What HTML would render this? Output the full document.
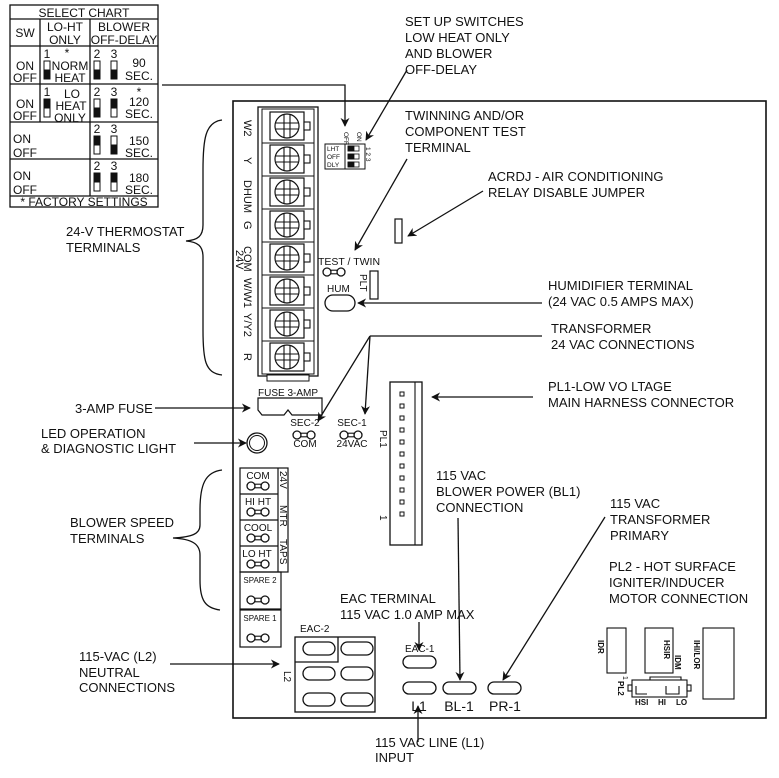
<!DOCTYPE html>
<html><head><meta charset="utf-8"><style>
html,body{margin:0;padding:0;background:#fff}
svg{display:block}
text{font-family:"Liberation Sans",Arial,sans-serif;fill:#111}
</style></head><body>
<svg width="779" height="778" viewBox="0 0 779 778" xmlns="http://www.w3.org/2000/svg">
<defs>
<marker id="a" viewBox="0 0 10 10" refX="9" refY="5" markerWidth="9" markerHeight="9" orient="auto" markerUnits="userSpaceOnUse"><path d="M0,0 L10,5 L0,10 L3,5 Z" fill="#111"/></marker>
<g id="jp"><circle cx="-7" cy="0" r="4" fill="#fff" stroke="#111" stroke-width="1.3"/><circle cx="7" cy="0" r="4" fill="#fff" stroke="#111" stroke-width="1.3"/><rect x="-3" y="-1.8" width="6" height="3.6" fill="#fff" stroke="#111" stroke-width="1.1"/></g>
<g id="scr"><rect x="0" y="0" width="34" height="28" fill="#fff" stroke="#111" stroke-width="1.2"/><circle cx="17" cy="14" r="12" fill="#fff" stroke="#111" stroke-width="1.2"/><path d="M14,3 V25 M20,3 V25 M6,11 H28 M6,17 H28" stroke="#111" stroke-width="1.1" fill="none"/><rect x="34" y="10" width="6" height="8" fill="#fff" stroke="#111" stroke-width="1.1"/></g>
</defs>
<g fill="none" stroke="#111" stroke-width="1.3">
<!-- select chart -->
<rect x="10" y="5" width="148" height="202"/>
<line x1="10" y1="19" x2="158" y2="19"/>
<line x1="10" y1="46" x2="158" y2="46"/>
<line x1="10" y1="84" x2="158" y2="84"/>
<line x1="10" y1="122" x2="158" y2="122"/>
<line x1="10" y1="159" x2="158" y2="159"/>
<line x1="10" y1="196" x2="158" y2="196"/>
<line x1="40" y1="19" x2="40" y2="122"/>
<line x1="90" y1="19" x2="90" y2="196"/>
</g>
<g fill="#111" stroke="#111" stroke-width="1">
<rect x="44" y="61" width="6" height="9" fill="#fff"/><rect x="44" y="70" width="6" height="9"/>
<rect x="94" y="61" width="6" height="9" fill="#fff"/><rect x="94" y="70" width="6" height="9"/>
<rect x="111" y="61" width="6" height="9" fill="#fff"/><rect x="111" y="70" width="6" height="9"/>
<rect x="44" y="99" width="6" height="9"/><rect x="44" y="108" width="6" height="9" fill="#fff"/>
<rect x="94" y="99" width="6" height="9" fill="#fff"/><rect x="94" y="108" width="6" height="9"/>
<rect x="111" y="99" width="6" height="9"/><rect x="111" y="108" width="6" height="9" fill="#fff"/>
<rect x="94" y="136" width="6" height="9"/><rect x="94" y="145" width="6" height="9" fill="#fff"/>
<rect x="111" y="136" width="6" height="9" fill="#fff"/><rect x="111" y="145" width="6" height="9"/>
<rect x="94" y="173" width="6" height="9"/><rect x="94" y="182" width="6" height="9" fill="#fff"/>
<rect x="111" y="173" width="6" height="9"/><rect x="111" y="182" width="6" height="9" fill="#fff"/>
</g>
<g font-size="12" text-anchor="middle">
<text x="84" y="17">SELECT CHART</text>
<text x="25" y="37">SW</text>
<text x="65" y="31">LO-HT</text><text x="65" y="44">ONLY</text>
<text x="124" y="31">BLOWER</text><text x="124" y="44">OFF-DELAY</text>
<text x="25" y="70">ON</text><text x="25" y="82">OFF</text>
<text x="25" y="108">ON</text><text x="25" y="120">OFF</text>
<text x="47" y="58">1</text><text x="67" y="57">*</text><text x="70" y="70">NORM</text><text x="70" y="82">HEAT</text>
<text x="97" y="58">2</text><text x="114" y="58">3</text><text x="139" y="67">90</text><text x="139" y="80">SEC.</text>
<text x="47" y="96">1</text><text x="72" y="98">LO</text><text x="71" y="110">HEAT</text><text x="70" y="122">ONLY</text>
<text x="97" y="96">2</text><text x="114" y="96">3</text><text x="139" y="96">*</text><text x="139" y="106">120</text><text x="139" y="118">SEC.</text>
<text x="97" y="133">2</text><text x="114" y="133">3</text><text x="139" y="145">150</text><text x="139" y="157">SEC.</text>
<text x="97" y="170">2</text><text x="114" y="170">3</text><text x="139" y="182">180</text><text x="139" y="194">SEC.</text>
<text x="84" y="206">* FACTORY SETTINGS</text>
</g>
<g font-size="12"><text x="13" y="143">ON</text><text x="13" y="157">OFF</text><text x="13" y="180">ON</text><text x="13" y="194">OFF</text></g>

<!-- board -->
<rect x="233" y="101" width="533" height="617" fill="none" stroke="#111" stroke-width="1.6"/>

<!-- terminal strip -->
<rect x="258" y="107" width="60" height="269" fill="#fff" stroke="#111" stroke-width="1.3"/>
<rect x="262" y="109" width="52" height="265" fill="none" stroke="#111" stroke-width="1"/>
<rect x="267" y="375" width="42" height="6" fill="#fff" stroke="#111" stroke-width="1"/>
<g stroke="#111" stroke-width="1.1">
<line x1="262" y1="143" x2="314" y2="143"/><line x1="262" y1="176" x2="314" y2="176"/><line x1="262" y1="209" x2="314" y2="209"/><line x1="262" y1="242" x2="314" y2="242"/><line x1="262" y1="275" x2="314" y2="275"/><line x1="262" y1="308" x2="314" y2="308"/><line x1="262" y1="341" x2="314" y2="341"/>
</g>
<use href="#scr" x="270" y="112"/><use href="#scr" x="270" y="145"/><use href="#scr" x="270" y="178"/><use href="#scr" x="270" y="211"/><use href="#scr" x="270" y="244"/><use href="#scr" x="270" y="277"/><use href="#scr" x="270" y="310"/><use href="#scr" x="270" y="343"/>
<g font-size="11">
<text transform="translate(244,120) rotate(90)">W2</text>
<text transform="translate(244,157) rotate(90)">Y</text>
<text transform="translate(244,180) rotate(90)">DHUM</text>
<text transform="translate(244,221) rotate(90)">G</text>
<text transform="translate(244,246) rotate(90)">COM</text>
<text transform="translate(236,250) rotate(90)">24V</text>
<text transform="translate(244,278) rotate(90)">W/W1</text>
<text transform="translate(244,313) rotate(90)">Y/Y2</text>
<text transform="translate(244,353) rotate(90)">R</text>
</g>
<!-- brace thermostat -->
<path d="M222,120 C205,122 203,140 203,170 L203,225 C203,236 198,240 186,241 C198,242 203,246 203,257 L203,330 C203,360 205,373 222,375" fill="none" stroke="#111" stroke-width="1.3"/>
<g font-size="13"><text x="66" y="236">24-V THERMOSTAT</text><text x="66" y="252">TERMINALS</text></g>

<!-- dip switch -->
<rect x="325" y="144" width="40" height="25" fill="none" stroke="#111" stroke-width="1"/>
<line x1="345" y1="144" x2="345" y2="169" stroke="#111"/>
<g font-size="6.5"><text x="327" y="151">LHT</text><text x="327" y="159">OFF</text><text x="327" y="167">DLY</text></g>
<g stroke="#111" stroke-width="0.8"><rect x="348" y="146" width="11" height="5" fill="#fff"/><rect x="348" y="146" width="6" height="5" fill="#111"/><rect x="348" y="154" width="11" height="5" fill="#fff"/><rect x="348" y="154" width="6" height="5" fill="#111"/><rect x="348" y="162" width="11" height="5" fill="#fff"/><rect x="348" y="162" width="6" height="5" fill="#111"/></g>
<g font-size="6.5"><text transform="translate(344,132) rotate(90)">OFF</text><text transform="translate(357,132) rotate(90)">ON</text><text transform="translate(366,147) rotate(90)">1 2 3</text></g>

<!-- chart line -->
<polyline points="162,85 345,85 345,126" fill="none" stroke="#111" stroke-width="1.3" marker-end="url(#a)"/>
<g font-size="13"><text x="405" y="26">SET UP SWITCHES</text><text x="405" y="42">LOW HEAT ONLY</text><text x="405" y="58">AND BLOWER</text><text x="405" y="74">OFF-DELAY</text></g>
<line x1="407" y1="70" x2="366" y2="140" stroke="#111" stroke-width="1.3" marker-end="url(#a)"/>

<g font-size="13"><text x="405" y="120">TWINNING AND/OR</text><text x="405" y="136">COMPONENT TEST</text><text x="405" y="152">TERMINAL</text></g>
<line x1="407" y1="159" x2="355" y2="250" stroke="#111" stroke-width="1.3" marker-end="url(#a)"/>

<g font-size="13"><text x="488" y="181">ACRDJ - AIR CONDITIONING</text><text x="488" y="197">RELAY DISABLE JUMPER</text></g>
<rect x="395" y="219" width="7" height="24" fill="none" stroke="#111" stroke-width="1.2"/>
<line x1="483" y1="191" x2="408" y2="236" stroke="#111" stroke-width="1.3" marker-end="url(#a)"/>

<text x="318" y="265" font-size="10.5">TEST / TWIN</text>
<use href="#jp" x="334" y="272"/>
<rect x="370" y="271" width="8" height="28" fill="none" stroke="#111" stroke-width="1.2"/>
<text transform="translate(360,274) rotate(90)" font-size="10">PLT</text>
<text x="327" y="292" font-size="10">HUM</text>
<rect x="325" y="295" width="30" height="16" rx="8" fill="none" stroke="#111" stroke-width="1.3"/>
<line x1="542" y1="303" x2="358" y2="303" stroke="#111" stroke-width="1.3" marker-end="url(#a)"/>
<g font-size="13"><text x="548" y="290">HUMIDIFIER TERMINAL</text><text x="548" y="306">(24 VAC  0.5 AMPS MAX)</text></g>

<g font-size="13"><text x="551" y="333">TRANSFORMER</text><text x="551" y="349">24 VAC CONNECTIONS</text></g>
<polyline points="542,336 370,336" fill="none" stroke="#111" stroke-width="1.3"/>
<line x1="370" y1="336" x2="318" y2="421" stroke="#111" stroke-width="1.3" marker-end="url(#a)"/>
<line x1="370" y1="336" x2="365" y2="414" stroke="#111" stroke-width="1.3" marker-end="url(#a)"/>

<!-- PL1 -->
<rect x="390" y="382" width="32" height="163" fill="none" stroke="#111" stroke-width="1.3"/>
<line x1="415" y1="382" x2="415" y2="545" stroke="#111" stroke-width="1.1"/>
<g fill="none" stroke="#111" stroke-width="1">
<rect x="400" y="392" width="4" height="4"/><rect x="400" y="404" width="4" height="4"/><rect x="400" y="416" width="4" height="4"/><rect x="400" y="428" width="4" height="4"/><rect x="400" y="440" width="4" height="4"/><rect x="400" y="452" width="4" height="4"/><rect x="400" y="464" width="4" height="4"/><rect x="400" y="476" width="4" height="4"/><rect x="400" y="488" width="4" height="4"/><rect x="400" y="500" width="4" height="4"/><rect x="400" y="512" width="4" height="4"/>
</g>
<text transform="translate(380,430) rotate(90)" font-size="10">PL1</text>
<text transform="translate(380,515) rotate(90)" font-size="10">1</text>
<line x1="533" y1="397" x2="432" y2="397" stroke="#111" stroke-width="1.3" marker-end="url(#a)"/>
<g font-size="13"><text x="548" y="391">PL1-LOW VO LTAGE</text><text x="548" y="407">MAIN HARNESS CONNECTOR</text></g>

<!-- fuse -->
<text x="258" y="396" font-size="10">FUSE 3-AMP</text>
<path d="M258,398 H322 V415 H292 L288,410 L284,415 H262 L258,410 Z" fill="none" stroke="#111" stroke-width="1.2"/>
<text x="75" y="413" font-size="13">3-AMP FUSE</text>
<line x1="155" y1="408" x2="250" y2="408" stroke="#111" stroke-width="1.3" marker-end="url(#a)"/>
<g font-size="10" text-anchor="middle"><text x="305" y="426">SEC-2</text><text x="305" y="447">COM</text><text x="352" y="426">SEC-1</text><text x="352" y="447">24VAC</text></g>
<use href="#jp" x="304" y="435"/><use href="#jp" x="351" y="435"/>
<circle cx="257" cy="443" r="10" fill="none" stroke="#111" stroke-width="1.3"/>
<circle cx="257" cy="443" r="7.5" fill="none" stroke="#111" stroke-width="1"/>
<g font-size="13"><text x="41" y="438">LED OPERATION</text><text x="41" y="453">&amp; DIAGNOSTIC LIGHT</text></g>
<line x1="194" y1="443" x2="246" y2="443" stroke="#111" stroke-width="1.3" marker-end="url(#a)"/>

<!-- blower speed -->
<g fill="none" stroke="#111" stroke-width="1.2">
<rect x="240" y="468" width="48" height="104"/>
<line x1="278" y1="468" x2="278" y2="572"/>
<line x1="240" y1="494" x2="278" y2="494"/><line x1="240" y1="520" x2="278" y2="520"/><line x1="240" y1="546" x2="278" y2="546"/>
<rect x="240" y="572" width="41" height="37"/>
<rect x="240" y="610" width="41" height="37"/>
</g>
<g font-size="10" text-anchor="middle"><text x="258" y="479">COM</text><text x="258" y="505">HI  HT</text><text x="258" y="531">COOL</text><text x="257" y="557">LO HT</text></g>
<g font-size="8" text-anchor="middle"><text x="260" y="583">SPARE 2</text><text x="260" y="621">SPARE 1</text></g>
<use href="#jp" x="258" y="486"/><use href="#jp" x="258" y="512"/><use href="#jp" x="258" y="538"/><use href="#jp" x="258" y="564"/><use href="#jp" x="258" y="600"/><use href="#jp" x="258" y="638"/>
<g font-size="10"><text transform="translate(280,471) rotate(90)">24V</text><text transform="translate(280,505) rotate(90)">MTR</text><text transform="translate(280,539) rotate(90)">TAPS</text></g>
<path d="M222,470 C205,472 200,485 200,510 L200,525 C200,534 192,537 173,538 C192,539 200,544 200,555 L200,580 C200,600 205,608 220,610" fill="none" stroke="#111" stroke-width="1.3"/>
<g font-size="13"><text x="70" y="527">BLOWER SPEED</text><text x="70" y="543">TERMINALS</text></g>

<!-- EAC-2 -->
<text x="300" y="632" font-size="10">EAC-2</text>
<g fill="none" stroke="#111" stroke-width="1.3">
<rect x="295" y="637" width="80" height="75"/>
<polyline points="295,662 338,662 338,637"/>
<rect x="303" y="642" width="32" height="13" rx="6.5"/><rect x="341" y="642" width="32" height="13" rx="6.5"/>
<rect x="303" y="667" width="32" height="13" rx="6.5"/><rect x="341" y="667" width="32" height="13" rx="6.5"/>
<rect x="303" y="693" width="32" height="13" rx="6.5"/><rect x="341" y="693" width="32" height="13" rx="6.5"/>
</g>
<text transform="translate(284,671) rotate(90)" font-size="10">L2</text>
<g font-size="13"><text x="79" y="661">115-VAC (L2)</text><text x="79" y="677">NEUTRAL</text><text x="79" y="692">CONNECTIONS</text></g>
<line x1="170" y1="664" x2="279" y2="664" stroke="#111" stroke-width="1.3" marker-end="url(#a)"/>

<!-- EAC / L1 / BL / PR -->
<g font-size="13"><text x="340" y="603">EAC TERMINAL</text><text x="340" y="619">115 VAC 1.0 AMP MAX</text></g>
<line x1="419" y1="622" x2="419" y2="650" stroke="#111" stroke-width="1.3" marker-end="url(#a)"/>
<text x="405" y="652" font-size="10">EAC-1</text>
<g fill="none" stroke="#111" stroke-width="1.3">
<rect x="403" y="656" width="33" height="12" rx="6"/>
<rect x="403" y="682" width="33" height="12" rx="6"/>
<rect x="443" y="682" width="33" height="12" rx="6"/>
<rect x="488" y="682" width="33" height="12" rx="6"/>
</g>
<g font-size="14" text-anchor="middle"><text x="419" y="711">L1</text><text x="459" y="711">BL-1</text><text x="505" y="711">PR-1</text></g>
<g font-size="13"><text x="436" y="480">115 VAC</text><text x="436" y="496">BLOWER POWER (BL1)</text><text x="436" y="512">CONNECTION</text></g>
<line x1="458" y1="518" x2="460" y2="680" stroke="#111" stroke-width="1.3" marker-end="url(#a)"/>
<g font-size="13"><text x="610" y="508">115 VAC</text><text x="610" y="524">TRANSFORMER</text><text x="610" y="540">PRIMARY</text></g>
<line x1="605" y1="517" x2="503" y2="680" stroke="#111" stroke-width="1.3" marker-end="url(#a)"/>
<g font-size="13"><text x="609" y="571">PL2 - HOT SURFACE</text><text x="609" y="587">IGNITER/INDUCER</text><text x="609" y="603">MOTOR CONNECTION</text></g>
<line x1="418" y1="742" x2="418" y2="706" stroke="#111" stroke-width="1.3" marker-end="url(#a)"/>
<g font-size="13"><text x="375" y="747">115 VAC LINE (L1)</text><text x="375" y="762">INPUT</text></g>

<!-- PL2 area -->
<g fill="none" stroke="#111" stroke-width="1.1">
<rect x="607" y="628" width="19" height="45"/>
<rect x="645" y="628" width="28" height="45"/>
<rect x="703" y="628" width="31" height="71"/>
<rect x="632" y="680" width="55" height="17"/>
<polyline points="650,680 650,677 681,677 681,680"/>
<rect x="628" y="685" width="4" height="6"/><rect x="687" y="685" width="4" height="6"/>
<polyline points="636,686 636,694 647,694"/><polyline points="666,686 666,694 679,694 679,686"/>
</g>
<g font-size="8" font-weight="bold">
<text transform="translate(598,640) rotate(90)">IDR</text>
<text transform="translate(664,640) rotate(90)">HSIR</text>
<text transform="translate(675,655) rotate(90)">IDM</text>
<text transform="translate(694,640) rotate(90)">IHI/LOR</text>
<text transform="translate(618,681) rotate(90)">PL2</text>
<text x="635" y="705">HSI</text><text x="658" y="705">HI</text><text x="676" y="705">LO</text>
</g>
<text transform="translate(623,676) rotate(90)" font-size="7">1</text>
</svg>
</body></html>
